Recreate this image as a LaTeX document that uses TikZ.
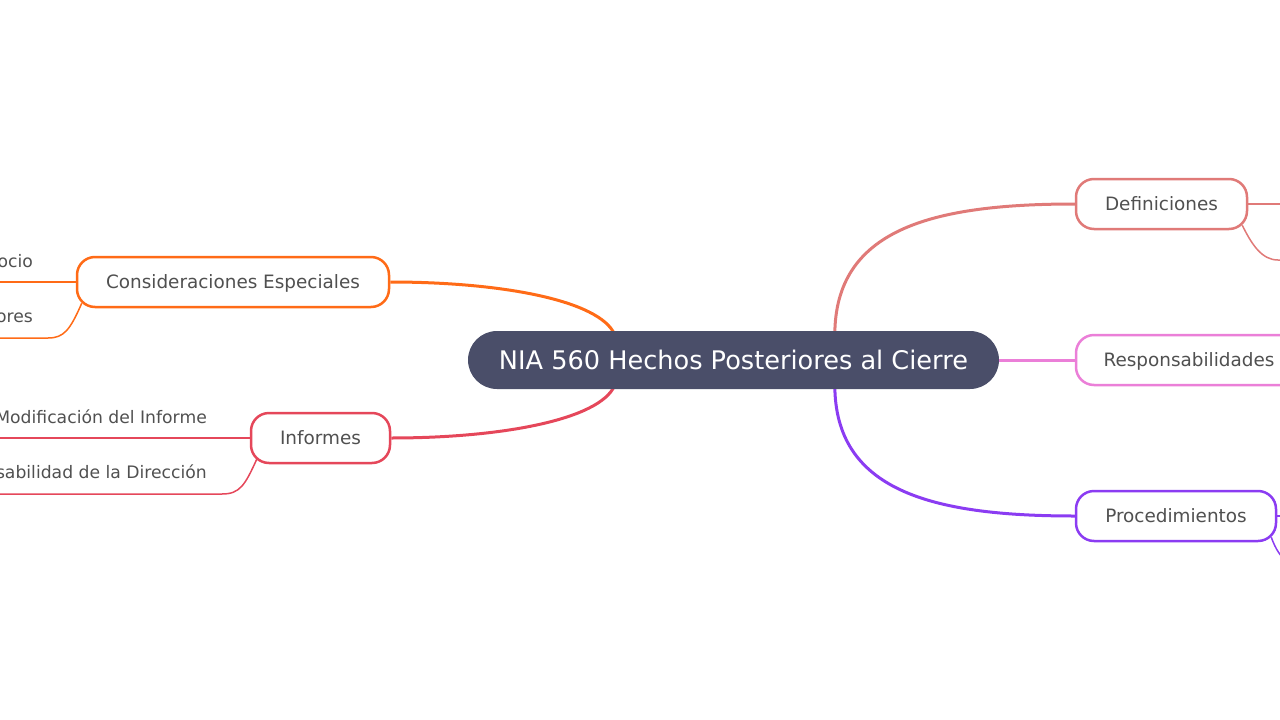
\documentclass[tikz,border=0pt]{standalone}
\usepackage{fontspec}
\setmainfont{DejaVu Sans}
\usetikzlibrary{backgrounds}
\definecolor{hub}{HTML}{4A4E69}
\definecolor{txt}{HTML}{505050}
\definecolor{orng}{HTML}{FF6B17}
\definecolor{rd}{HTML}{E5475A}
\definecolor{salmon}{HTML}{E07A78}
\definecolor{pnk}{HTML}{EB7FD8}
\definecolor{purp}{HTML}{8B3CF2}

\begin{document}
\begin{tikzpicture}[x=1pt,y=-1pt]
    \tikzset{%
      hub/.style={rounded corners=29pt, fill=hub, text=white, minimum
        height=58pt, text depth=0pt, font=\fontsize{25.6}{30}\selectfont},
      topic/.style={rounded corners=18pt, draw=#1, line width=2.5pt, fill=white,
        text=txt, minimum height=50pt, text depth=0pt,
        font=\fontsize{18.4}{22}\selectfont},
      leaf/.style={text=txt, inner sep=0pt, font=\fontsize{17.2}{21}\selectfont},
      branch/.style={line width=3pt},
      twig/.style={line width=1.5pt},
    }
    \useasboundingbox (0,0) rectangle (1280,720);

    \node[hub, minimum width=531pt] (C) at (733.5,360) {NIA 560 Hechos Posteriores al Cierre};

    % left side
    \node[topic=orng, minimum width=312pt] (A) at (233,282) {Consideraciones Especiales};
    \node[topic=rd, minimum width=139pt] (B) at (320.5,438) {Informes};
    % right side
    \node[topic=salmon, minimum width=171pt] (D) at (1161.5,204) {Definiciones};
    \node[topic=pnk, minimum width=226pt] (E) at (1189,360) {Responsabilidades};
    \node[topic=purp, minimum width=200pt] (F) at (1176,516) {Procedimientos};

    % leaves
    \node[leaf, anchor=base east] (A1) at (33,267) {ocio};
    \node[leaf, anchor=base east] (A2) at (33,322) {ores};
    \node[leaf, anchor=base east] (B1) at (207,423) {Modificación del Informe};
    \node[leaf, anchor=base east] (B2) at (207,478) {sabilidad de la Dirección};
    \coordinate (A1e) at (-10,282);
    \coordinate (A2e) at (-10,338);
    \coordinate (B1e) at (-10,438);
    \coordinate (B2e) at (-10,494);
    \coordinate (D1e) at (1290,204);
    \coordinate (D2e) at (1290,260);
    \coordinate (F1e) at (1290,516);
    \coordinate (F2e) at (1290,565);

    \begin{scope}[on background layer]
    \draw[branch, orng] (A.east) .. controls (500,282) and (600,300) .. ([xshift=147pt,yshift=-4pt]C.north west);
    \draw[branch, rd] (B.east) .. controls (500,438) and (600,420) .. ([xshift=147pt,yshift=4pt]C.south west);
    \draw[branch, salmon] ([xshift=367pt,yshift=-4pt]C.north west) .. controls (835,230) and (930,204) .. (D.west);
    \draw[branch, pnk] (C.east) -- (E.west);
    \draw[branch, purp] ([xshift=367pt,yshift=4pt]C.south west) .. controls (835,490) and (930,516) .. (F.west);

    \draw[twig, orng] (A.west) -- (A1e);
    \draw[twig, orng] ([xshift=6pt,yshift=5pt]A.south west) .. controls (70,330) and (64,338) .. (48,338) -- (A2e);
    \draw[twig, rd] (B.west) -- (B1e);
    \draw[twig, rd] ([xshift=7pt,yshift=5pt]B.south west) .. controls (245,485) and (240,494) .. (222,494) -- (B2e);
    \draw[twig, salmon] (D.east) -- (D1e);
    \draw[twig, salmon] ([xshift=-6pt,yshift=5pt]D.south east) .. controls (1252,245) and (1262,260) .. (1278,260) -- (D2e);
    \draw[twig, purp] (F.east) -- (F1e);
    \draw[twig, purp] ([xshift=-6pt,yshift=5pt]F.south east) .. controls (1276,550) and (1280,556) .. (F2e);
    \end{scope}
\end{tikzpicture}
\end{document}
